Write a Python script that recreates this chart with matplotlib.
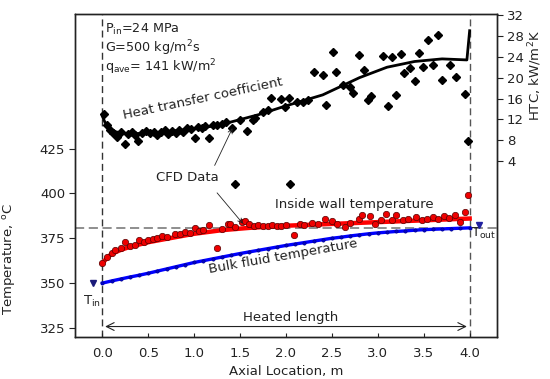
import matplotlib
matplotlib.use("Agg")
import matplotlib.pyplot as plt

plt.rcParams['font.family'] = ['DejaVu Sans']
plt.rcParams['mathtext.fontset'] = 'dejavusans'

# ---------------- data ----------------
# HTC model curve (kW/m2K)
htc_line_x = [0.0, 0.03, 0.08, 0.15, 0.25, 0.4, 0.6, 0.8, 1.0, 1.2, 1.4, 1.7, 2.0, 2.4, 2.8, 3.1, 3.4, 3.7, 3.97, 4.0]
htc_line_y = [12.6, 11.4, 10.3, 9.6, 9.3, 9.3, 9.5, 9.8, 10.2, 10.7, 11.5, 12.9, 14.6, 16.7, 20.0, 22.0, 23.1, 23.6, 23.4, 29.0]

# HTC CFD data (diamonds)
htc_pts_x = [0.02, 0.05, 0.08, 0.12, 0.16, 0.20, 0.25, 0.28, 0.32, 0.36, 0.39, 0.43, 0.48, 0.52,
             0.56, 0.60, 0.64, 0.68, 0.72, 0.76, 0.80, 0.84, 0.88, 0.92, 0.96, 1.01, 1.04, 1.08,
             1.12, 1.16, 1.20, 1.25, 1.30, 1.35, 1.41, 1.45, 1.50, 1.57, 1.64, 1.66, 1.75, 1.80,
             1.84, 1.95, 1.99, 2.03, 2.04, 2.12, 2.18, 2.24, 2.30, 2.40, 2.44, 2.51, 2.54, 2.62,
             2.70, 2.73, 2.80, 2.85, 2.89, 2.93, 3.06, 3.11, 3.15, 3.20, 3.25, 3.29, 3.35, 3.40,
             3.45, 3.49, 3.55, 3.60, 3.65, 3.70, 3.79, 3.85, 3.95, 3.98]
htc_pts_y = [13.0, 11.0, 10.0, 9.3, 8.6, 9.5, 7.3, 9.2, 9.6, 9.0, 7.8, 9.4, 9.7, 9.3,
             9.6, 9.0, 9.5, 9.9, 9.2, 9.8, 9.4, 10.0, 9.6, 10.3, 10.1, 8.4, 10.6, 10.4,
             10.8, 8.4, 11.0, 10.9, 11.2, 11.5, 10.3, -0.3, 11.8, 9.7, 11.9, 12.3, 13.5, 13.8,
             16.1, 15.9, 14.4, 16.1, -0.3, 15.4, 15.4, 15.8, 21.0, 20.6, 14.8, 25.0, 21.0, 18.5,
             18.3, 17.0, 24.3, 21.5, 15.7, 16.4, 24.1, 14.5, 24.0, 16.6, 24.6, 20.8, 21.8, 19.4,
             24.8, 22.1, 27.2, 22.4, 28.1, 19.6, 22.4, 20.2, 16.8, 7.9]

# bulk fluid temperature (deg C)
bulk_x = [0.0, 0.1, 0.2, 0.3, 0.4, 0.5, 0.6, 0.7, 0.8, 0.9, 1.0, 1.1, 1.2, 1.3, 1.4, 1.5, 1.6, 1.7,
          1.8, 1.9, 2.0, 2.1, 2.2, 2.3, 2.4, 2.5, 2.6, 2.7, 2.8, 2.9, 3.0, 3.1, 3.2, 3.3, 3.4, 3.5,
          3.6, 3.7, 3.8, 3.9, 4.0]
bulk_t = [350.0, 351.2, 352.3, 353.4, 354.4, 355.5, 356.7, 357.9, 359.1, 360.3, 361.5, 362.5,
          363.5, 364.5, 365.5, 366.5, 367.4, 368.3, 369.2, 370.1, 371.0, 371.8, 372.6, 373.4,
          374.2, 375.0, 375.6, 376.3, 376.9, 377.5, 378.0, 378.4, 378.8, 379.1, 379.5, 379.8,
          380.0, 380.2, 380.4, 380.6, 380.8]

# inside wall temperature model curve
wall_x = [0.0, 0.05, 0.1, 0.2, 0.3, 0.5, 0.7, 1.0, 1.3, 1.6, 2.0, 2.5, 3.0, 3.5, 4.0]
wall_t = [361.0, 364.0, 366.3, 368.5, 370.2, 372.8, 374.7, 377.5, 379.5, 380.8, 382.0, 383.0, 384.0, 385.0, 386.0]

# inside wall temperature CFD data (red circles)
wall_pts_x = [0.00, 0.05, 0.10, 0.14, 0.20, 0.25, 0.30, 0.36, 0.40, 0.45, 0.50, 0.55, 0.60, 0.65,
              0.70, 0.79, 0.85, 0.90, 0.95, 1.01, 1.05, 1.10, 1.16, 1.25, 1.30, 1.37, 1.39, 1.45,
              1.52, 1.55, 1.60, 1.65, 1.70, 1.75, 1.80, 1.85, 1.90, 1.95, 2.00, 2.09, 2.15, 2.20,
              2.28, 2.35, 2.42, 2.50, 2.56, 2.64, 2.70, 2.79, 2.83, 2.91, 2.97, 3.03, 3.09, 3.15,
              3.20, 3.27, 3.33, 3.42, 3.48, 3.54, 3.60, 3.66, 3.72, 3.78, 3.84, 3.89, 3.95, 3.98]
wall_pts_t = [361.3, 364.6, 367.0, 368.7, 369.5, 373.0, 370.8, 371.5, 374.3, 372.8, 373.8, 374.6, 375.2, 376.1,
              375.6, 377.6, 377.2, 378.4, 378.0, 380.9, 379.3, 379.6, 382.2, 369.3, 380.4, 382.8, 383.2, 381.5,
              384.1, 384.6, 382.8, 381.9, 382.3, 382.0, 381.7, 382.4, 382.1, 381.8, 382.6, 376.7, 382.9, 382.3,
              383.5, 382.8, 386.0, 384.6, 383.1, 381.3, 383.6, 386.0, 388.2, 387.2, 383.2, 385.0, 388.7, 385.3,
              388.2, 385.0, 385.6, 386.8, 385.4, 386.0, 386.8, 385.5, 387.2, 386.1, 387.8, 384.0, 389.6, 398.9]

t_in = (-0.1, 350.0)
t_out = (4.1, 382.6)
t_out_line = 381.0

t_ticks = [325, 350, 375, 400, 425]
htc_ticks = [4, 8, 12, 16, 20, 24, 28, 32]
x_ticks = [0.0, 0.5, 1.0, 1.5, 2.0, 2.5, 3.0, 3.5, 4.0]

# ---------------- figure ----------------
fig = plt.figure(figsize=(5.5, 3.79), dpi=100)
ax = fig.add_axes([0.136, 0.111, 0.768, 0.852])
tc = '#222222'
fs = 9.5

ax.set_xlim(-0.3, 4.3)
ax.set_ylim(320, 500)

ax.axvline(0.0, color='#333333', ls=(0, (5, 3)), lw=1.0, zorder=1)
ax.axvline(4.0, color='#555555', ls=(0, (5, 3)), lw=1.0, zorder=1)
ax.axhline(t_out_line, color='#707070', ls=(0, (6, 3)), lw=1.1, zorder=1)

ax.plot(bulk_x, bulk_t, color='#0000ff', lw=2.4, marker='o', ms=2.4, mfc='#0000cc', mec='#000080', mew=0.4, zorder=3)
ax.plot(wall_x, wall_t, color='#ff0000', lw=3.2, zorder=3)
ax.plot(wall_pts_x, wall_pts_t, ls='none', marker='o', ms=4.6, mfc='#ee0000', mec='#550000', mew=0.5, zorder=4)

ax.plot([t_in[0]], [t_in[1]], ls='none', marker='v', ms=5, color='#1a1a7a', zorder=5)
ax.plot([t_out[0]], [t_out[1]], ls='none', marker='v', ms=5, color='#2020a0', zorder=5)
ax.text(-0.21, 338, r'$\mathregular{T_{in}}$', fontsize=fs, color=tc)
ax.text(4.02, 376.0, r'$\mathregular{T_{out}}$', fontsize=fs, color=tc)

ax.annotate('', xy=(0.0, 325.8), xytext=(4.0, 325.8),
            arrowprops=dict(arrowstyle='<->', color='#222222', lw=0.8, mutation_scale=14), zorder=2)
ax.text(2.05, 331.0, 'Heated length', ha='center', va='center', fontsize=fs, color=tc)

ax.text(1.88, 393.8, 'Inside wall temperature', ha='left', va='center', fontsize=fs, color=tc)
ax.text(1.97, 365.0, 'Bulk fluid temperature', ha='center', va='center', fontsize=fs, color=tc, rotation=10)
ax.text(1.09, 453.0, 'Heat transfer coefficient', ha='center', va='center', fontsize=fs, color=tc, rotation=12)

fs2 = 9.2
ax.text(0.025, 491.5, r'$\mathregular{P_{in}}$=24 MPa', fontsize=fs2, color=tc, va='center')
ax.text(0.025, 481.0, r'G=500 kg/m$\mathregular{^2}$s', fontsize=fs2, color=tc, va='center')
ax.text(0.025, 470.5, r'$\mathregular{q_{ave}}$= 141 kW/m$\mathregular{^2}$', fontsize=fs2, color=tc, va='center')

ax.text(0.93, 409, 'CFD Data', ha='center', va='center', fontsize=fs, color=tc)
ax.annotate('', xy=(1.55, 382.0), xytext=(1.23, 401.5),
            arrowprops=dict(arrowstyle='->', color='#222222', lw=0.6, mutation_scale=8), zorder=6)

ax.set_xticks(x_ticks)
ax.set_xticklabels([f'{v:.1f}' for v in x_ticks])
ax.set_yticks(t_ticks)
ax.tick_params(axis='y', direction='out', length=4, width=0.8, labelsize=fs, colors='#222222', pad=3)
ax.tick_params(axis='x', direction='in', length=3, width=0.8, labelsize=fs, colors='#222222', pad=7)
ax.set_xlabel('Axial Location, m', fontsize=fs, color=tc, labelpad=4)
ax.set_ylabel('Temperature, $\\mathregular{^oC}$', fontsize=fs, color=tc, labelpad=2)
ax.yaxis.set_label_coords(-0.135, 0.24)

ax2 = ax.twinx()
ax2.set_ylim(-29.7, 32.2)
ax2.plot(htc_pts_x, htc_pts_y, ls='none', marker='D', ms=4.0, color='black', zorder=3)
ax2.plot(htc_line_x, htc_line_y, color='black', lw=2.0, zorder=4)
ax2.set_yticks(htc_ticks)
ax2.tick_params(axis='y', direction='out', length=4, width=0.8, labelsize=fs, colors='#222222', pad=3)
ax2.set_ylabel('HTC, kW/m$\\mathregular{^2}$K', fontsize=fs, color=tc, labelpad=2)
ax2.yaxis.set_label_coords(1.07, 0.81)

# arrow from CFD Data to the HTC data (in HTC coordinates)
ax2.annotate('', xy=(1.43, 10.8), xytext=(1.21, 2.7),
             arrowprops=dict(arrowstyle='->', color='#222222', lw=0.6, mutation_scale=8), zorder=6)

for a in (ax, ax2):
    for s in a.spines.values():
        s.set_linewidth(1.0)
        s.set_color('#222222')

fig.savefig('out.png', dpi=100)
